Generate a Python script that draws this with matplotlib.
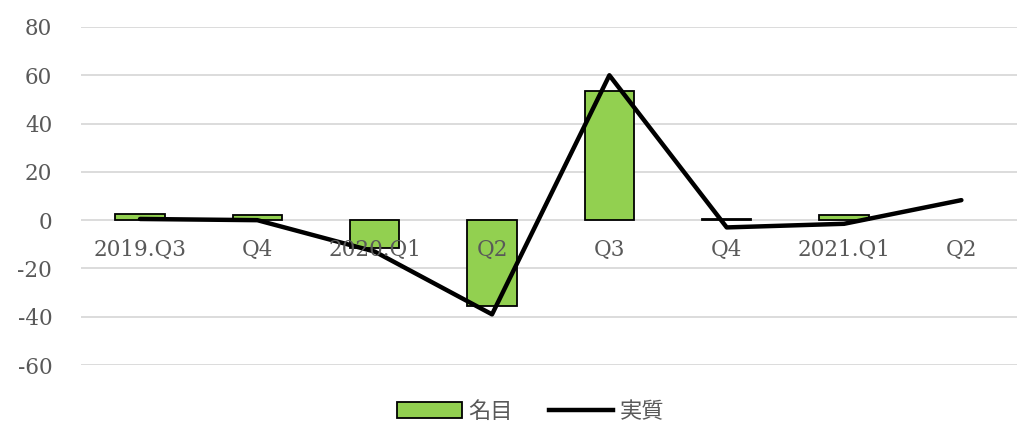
import numpy as np
import matplotlib.pyplot as plt
from matplotlib.patches import Patch
from matplotlib.lines import Line2D

# quarterly growth, nominal (bars) vs real (line)
quarters = ["2019.Q3", "Q4", "2020.Q1", "Q2", "Q3", "Q4", "2021.Q1", "Q2"]
nominal = [2.5, 2.0, -11.5, -35.5, 53.3, 0.5, 2.0, np.nan]
real = [0.5, 0.0, -13.0, -39.0, 60.0, -3.0, -1.5, 8.3]

plt.rcParams["font.family"] = ["DejaVu Serif", "Noto Sans CJK JP"]
plt.rcParams["axes.unicode_minus"] = False

fig = plt.figure(figsize=(10.17, 4.28), dpi=100)
ax = fig.add_axes([0.08, 0.147, 0.923, 0.79])

x = np.arange(len(quarters))
ax.bar(x, nominal, width=0.42, color="#92d050", edgecolor="black", linewidth=1.3, zorder=2)
ax.plot(x, real, color="black", lw=3.2, solid_capstyle="round", zorder=3)

ax.set_ylim(-60, 80)
ax.set_yticks(range(-60, 81, 20))
ax.set_xlim(-0.5, len(quarters) - 0.5)
ax.yaxis.grid(True, color="#d9d9d9", lw=1.3, zorder=0)
for s in ax.spines.values():
    s.set_visible(False)
ax.tick_params(axis="y", length=0, pad=21, labelsize=15.5, labelcolor="#595959")

# category labels sit right under the zero line, like Excel does
ax.set_xticks([])
for xi, lab in zip(x, quarters):
    ax.text(xi, -12.3, lab, ha="center", va="center", fontsize=15.5, color="#595959", zorder=4)

handles = [Patch(facecolor="#92d050", edgecolor="black", linewidth=1.3),
           Line2D([0], [0], color="black", lw=3.2)]
fig.legend(handles, ["名目", "実質"], loc="lower center", bbox_to_anchor=(0.522, -0.035),
           ncol=2, frameon=False, handlelength=2.9, columnspacing=1.6,
           handletextpad=0.3, prop={"family": ["Noto Sans CJK JP"], "size": 16})
for t in fig.legends[0].get_texts():
    t.set_color("#595959")

fig.savefig("out.png", dpi=100)
